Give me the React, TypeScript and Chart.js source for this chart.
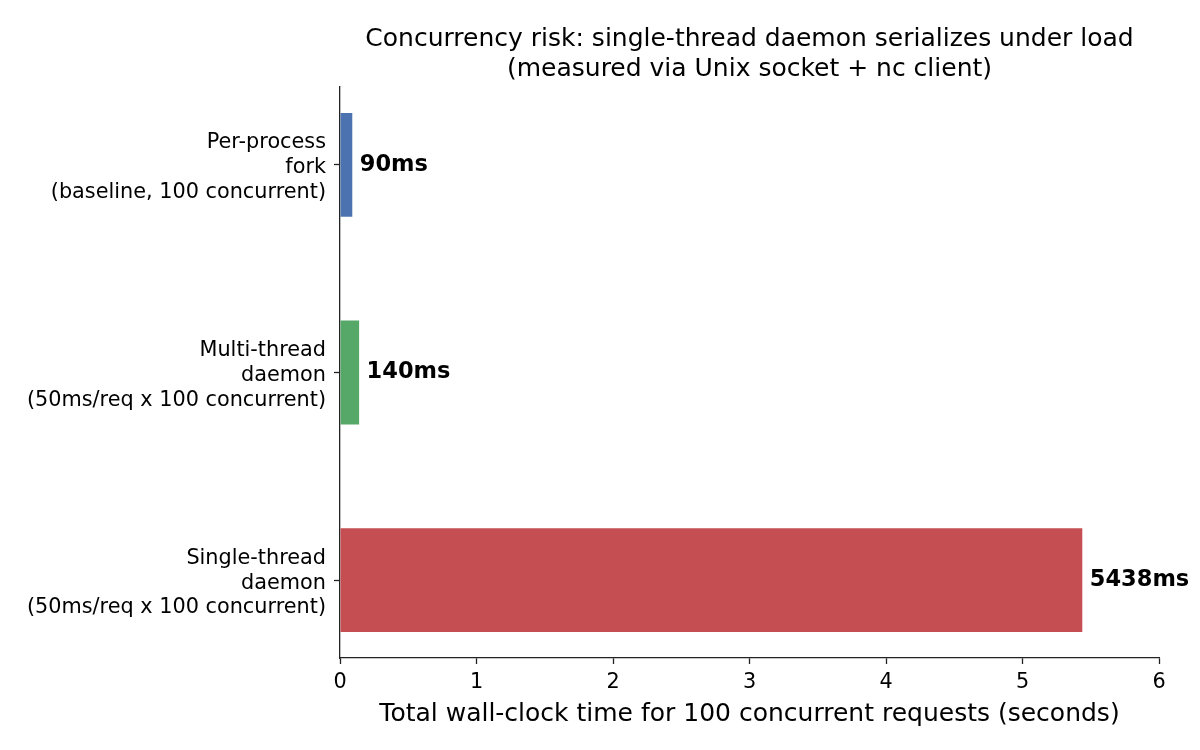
import React, { useEffect, useRef } from "react";
import { Chart, registerables } from "chart.js";

Chart.register(...registerables);

// bottom to top, as in the picture
const categories = [
  ["Single-thread", "daemon", "(50ms/req x 100 concurrent)"],
  ["Multi-thread", "daemon", "(50ms/req x 100 concurrent)"],
  ["Per-process", "fork", "(baseline, 100 concurrent)"],
];
const wallClockMs = [5438, 140, 90];
const barColors = ["#C44E52", "#55A868", "#4C72B0"];
const xTicks = [0, 1, 2, 3, 4, 5, 6];
const titleLines = [
  "Concurrency risk: single-thread daemon serializes under load",
  "(measured via Unix socket + nc client)",
];
const xAxisTitle = "Total wall-clock time for 100 concurrent requests (seconds)";

const FONT = "'DejaVu Sans', sans-serif";
const AXIS_COLOR = "#222";

const overlayPlugin = {
  id: "overlayText",
  afterDatasetsDraw(chart: any) {
    const { ctx, chartArea } = chart;
    const meta = chart.getDatasetMeta(0);
    ctx.save();
    ctx.fillStyle = "#000";

    // value labels next to each bar
    ctx.font = `bold 22.5px ${FONT}`;
    ctx.textAlign = "left";
    ctx.textBaseline = "middle";
    meta.data.forEach((bar: any, i: number) => {
      ctx.fillText(`${wallClockMs[i]}ms`, bar.x + 7.5, bar.y);
    });

    // title and x axis title
    const cx = (chartArea.left + chartArea.right) / 2;
    ctx.font = `25px ${FONT}`;
    ctx.textAlign = "center";
    ctx.textBaseline = "alphabetic";
    titleLines.forEach((line, i) => {
      ctx.fillText(line, cx, chartArea.top - 41 + i * 29.5);
    });
    ctx.fillText(xAxisTitle, cx, chartArea.bottom + 63);
    ctx.restore();
  },
};

const App: React.FC = () => {
  const canvasRef = useRef<HTMLCanvasElement | null>(null);

  useEffect(() => {
    document.body.style.margin = "0";
    if (!canvasRef.current) return;
    const ctx = canvasRef.current.getContext("2d");
    if (!ctx) return;

    const axisGrid = {
      drawOnChartArea: false,
      drawTicks: true,
      offset: false,
      tickLength: 6,
      tickWidth: 1.3,
      tickColor: AXIS_COLOR,
    };
    const axisBorder = { display: true, color: AXIS_COLOR, width: 1.3 };

    const chart = new Chart(ctx, {
      type: "bar",
      data: {
        datasets: [
          {
            data: wallClockMs.map((ms, i) => ({ x: ms / 1000, y: i })),
            backgroundColor: barColors,
            borderWidth: 0,
            barPercentage: 0.5,
            categoryPercentage: 1,
          },
        ],
      },
      plugins: [overlayPlugin],
      options: {
        indexAxis: "y",
        responsive: false,
        animation: false,
        layout: { padding: { top: 87, right: 41, bottom: 0, left: 0 } },
        plugins: {
          legend: { display: false },
          title: { display: false },
          tooltip: { enabled: false },
        },
        scales: {
          x: {
            type: "linear",
            min: 0,
            max: 6,
            afterBuildTicks: (scale: any) => {
              scale.ticks = xTicks.map((v) => ({ value: v }));
            },
            afterFit: (scale: any) => {
              scale.height = 92;
            },
            ticks: {
              color: "#000",
              font: { family: FONT, size: 20.8 },
              padding: 6,
              maxRotation: 0,
            },
            grid: axisGrid,
            border: axisBorder,
          },
          y: {
            type: "linear",
            min: -0.375,
            max: 2.375,
            offset: false,
            afterBuildTicks: (scale: any) => {
              scale.ticks = categories.map((_, i) => ({ value: i }));
            },
            afterFit: (scale: any) => {
              scale.width = 340;
            },
            ticks: {
              color: "#000",
              font: { family: FONT, size: 20.8, lineHeight: 1.2 },
              padding: 8,
              labelOffset: 3,
              callback: (v: any) => categories[v] ?? "",
            },
            grid: axisGrid,
            border: axisBorder,
          },
        },
      } as any,
    });

    return () => {
      chart.destroy();
    };
  }, []);

  return (
    <div style={{ width: 1200, height: 750 }}>
      <canvas ref={canvasRef} width={1200} height={750}></canvas>
    </div>
  );
};

export default App;
